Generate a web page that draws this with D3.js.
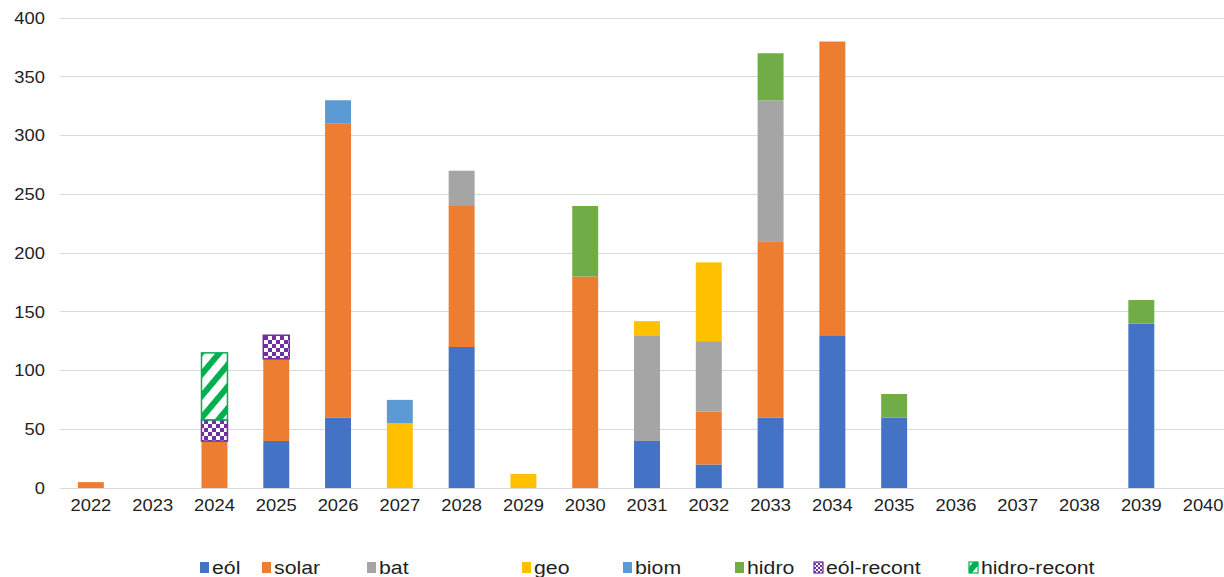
<!DOCTYPE html>
<html><head><meta charset="utf-8">
<script src="https://cdn.jsdelivr.net/npm/d3@7"></script>
<style>body{margin:0;background:#fff}svg{display:block}</style>
</head><body>
<svg id="c" width="1224" height="577"></svg>
<script>
const years = ["2022","2023","2024","2025","2026","2027","2028","2029","2030","2031","2032","2033","2034","2035","2036","2037","2038","2039","2040"];
const seriesNames = ["eól","solar","bat","geo","biom","hidro","eól-recont","hidro-recont"];
const eol        = [0,0,0,40,60,0,120,0,0,40,20,60,130,60,0,0,0,140,0];
const solar      = [5,0,40,70,250,0,120,0,180,0,45,150,250,0,0,0,0,0,0];
const bat        = [0,0,0,0,0,0,30,0,0,90,60,120,0,0,0,0,0,0,0];
const geo        = [0,0,0,0,0,55,0,12,0,12,67,0,0,0,0,0,0,0,0];
const biom       = [0,0,0,0,20,20,0,0,0,0,0,0,0,0,0,0,0,0,0];
const hidro      = [0,0,0,0,0,0,0,0,60,0,0,40,0,20,0,0,0,20,0];
const eolRecont  = [0,0,18,20,0,0,0,0,0,0,0,0,0,0,0,0,0,0,0];
const hidroRecont= [0,0,57,0,0,0,0,0,0,0,0,0,0,0,0,0,0,0,0];
const yTicks = [0,50,100,150,200,250,300,350,400];

const seriesValues = [eol,solar,bat,geo,biom,hidro,eolRecont,hidroRecont];
const colors = ["#4472C4","#ED7D31","#A5A5A5","#FFC000","#5B9BD5","#70AD47","url(#chk)","url(#stripe)"];
const strokes = [null,null,null,null,null,null,"#7030A0","#00B050"];
const legendX = [200,262,367,522,623,735,814,969];

const svg = d3.select("#c");
const defs = svg.append("defs");
const chk = defs.append("pattern").attr("id","chk").attr("patternUnits","userSpaceOnUse").attr("width",8).attr("height",8);
chk.append("rect").attr("width",8).attr("height",8).attr("fill","#fff");
chk.append("rect").attr("width",4).attr("height",4).attr("fill","#7030A0");
chk.append("rect").attr("x",4).attr("y",4).attr("width",4).attr("height",4).attr("fill","#7030A0");
const st = defs.append("pattern").attr("id","stripe").attr("patternUnits","userSpaceOnUse").attr("width",14).attr("height",14).attr("patternTransform","rotate(40)");
st.append("rect").attr("width",14).attr("height",14).attr("fill","#fff");
st.append("rect").attr("width",6).attr("height",14).attr("fill","#00B050");
const chkL = defs.append("pattern").attr("id","chkL").attr("patternUnits","userSpaceOnUse").attr("width",4).attr("height",4);
chkL.append("rect").attr("width",4).attr("height",4).attr("fill","#fff");
chkL.append("rect").attr("width",2).attr("height",2).attr("fill","#7030A0");
chkL.append("rect").attr("x",2).attr("y",2).attr("width",2).attr("height",2).attr("fill","#7030A0");

const x = d3.scaleBand().domain(years).range([60,1234]).paddingInner(0.58).paddingOuter(0.29);
const y = d3.scaleLinear().domain([0,400]).range([488,18]);
const font = "Liberation Sans, Arial, sans-serif";

// gridlines
svg.append("g").selectAll("line").data(yTicks).join("line")
  .attr("x1",60).attr("x2",1224).attr("y1",d=>y(d)).attr("y2",d=>y(d))
  .attr("stroke","#d9d9d9").attr("stroke-width",1).attr("shape-rendering","crispEdges");

// y axis labels
const yAxis = d3.axisLeft(y).tickValues(yTicks).tickSize(0).tickPadding(0);
const gy = svg.append("g").attr("transform","translate(45,0)").call(yAxis);
gy.select(".domain").remove();
gy.selectAll("text").attr("font-family",font).attr("font-size",17).attr("fill","#1f1f1f").attr("transform","scale(1.08,1)");

// x axis labels
const xAxis = d3.axisBottom(x).tickSize(0).tickPadding(0);
const gx = svg.append("g").attr("transform","translate(0,499)").call(xAxis);
gx.select(".domain").remove();
gx.selectAll("text").attr("font-family",font).attr("font-size",17).attr("fill","#1f1f1f").attr("dy","0.71em").attr("transform","scale(1.08,1)");

// stacked bars
const table = years.map((yr,i)=>{const o={year:yr}; seriesNames.forEach((s,j)=>o[s]=seriesValues[j][i]); return o;});
const stacked = d3.stack().keys(seriesNames)(table);
stacked.forEach((layer,j)=>{
  svg.append("g").selectAll("rect").data(layer.filter(d=>d[1]-d[0]>0)).join("rect")
    .attr("x",d=>x(d.data.year)).attr("width",x.bandwidth())
    .attr("y",d=>y(d[1])).attr("height",d=>y(d[0])-y(d[1]))
    .attr("fill",colors[j])
    .attr("stroke",strokes[j]||"none").attr("stroke-width",strokes[j]?1.5:0);
});

// legend
const lg = svg.append("g");
seriesNames.forEach((s,j)=>{
  const g = lg.append("g").attr("transform",`translate(${legendX[j]},567)`);
  let fill = colors[j];
  if (j===6) fill = "url(#chkL)";
  g.append("rect").attr("x",0).attr("y",-5).attr("width",9).attr("height",11)
    .attr("fill",fill).attr("stroke",strokes[j]||"none").attr("stroke-width",strokes[j]?1.2:0);
  g.append("text").attr("transform","translate(12,0) scale(1.12,1)").attr("dy","0.35em")
    .attr("font-family",font).attr("font-size",19).attr("fill","#1f1f1f").text(s);
});
</script>
</body></html>
